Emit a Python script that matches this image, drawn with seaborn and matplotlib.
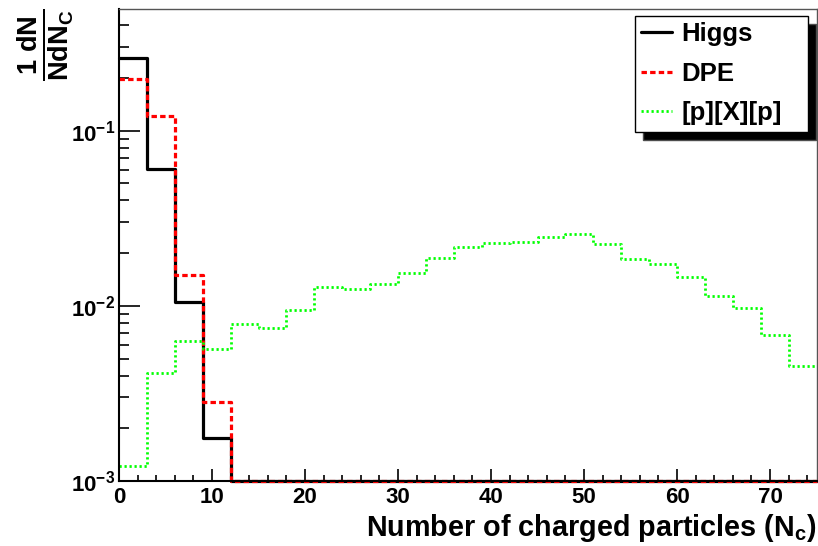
import numpy as np
import pandas as pd
import seaborn as sns
import matplotlib
matplotlib.use("Agg")
import matplotlib.pyplot as plt
from matplotlib.ticker import MultipleLocator, LogLocator, FuncFormatter, NullFormatter

# bin edges: width 3, from 0 to 75
edges = np.arange(0, 76, 3)

# normalised multiplicity per bin
higgs = [0.261, 0.0605, 0.0105, 0.00177] + [0.0] * 21
dpe = [0.197, 0.1217, 0.0150, 0.00284] + [0.0] * 21
pxp = [0.00122, 0.00411, 0.00628, 0.00568, 0.00791, 0.00747, 0.00942,
       0.01277, 0.0125, 0.0134, 0.01535, 0.0187, 0.0216, 0.0228, 0.0232,
       0.0246, 0.0256, 0.0226, 0.0185, 0.0174, 0.01456, 0.0114, 0.0097,
       0.00685, 0.00456]

labels = ["Higgs", "DPE", "[p][X][p]"]
ymin, ymax = 1e-3, 0.495

sns.set_theme(style="ticks")
plt.rcParams["font.family"] = ["Liberation Sans", "DejaVu Sans"]
plt.rcParams["font.weight"] = "bold"
plt.rcParams["text.color"] = "black"
plt.rcParams["axes.labelcolor"] = "black"
plt.rcParams["xtick.color"] = "black"
plt.rcParams["ytick.color"] = "black"
plt.rcParams["mathtext.fontset"] = "custom"
plt.rcParams["mathtext.rm"] = "Liberation Sans:bold"
plt.rcParams["mathtext.bf"] = "Liberation Sans:bold"
plt.rcParams["mathtext.it"] = "Liberation Sans:bold"
plt.rcParams["mathtext.default"] = "bf"

fig = plt.figure(figsize=(8.18, 5.46), dpi=100)
ax = fig.add_axes([119 / 818, 1 - 481 / 546, (816.5 - 119) / 818, (481 - 9) / 546])


def steps(vals):
    # ROOT draws empty bins on the frame bottom
    v = np.clip(np.array(vals, dtype=float), ymin, None)
    return pd.DataFrame({"x": edges, "y": np.append(v, v[-1])})


styles = [
    dict(color="black", lw=2.3, linestyle="-"),
    dict(color="#ff0000", lw=2.3, linestyle=(0, (1.7, 1.0))),
    dict(color="#00ff00", lw=2.0, linestyle=(0, (0.8, 1.0))),
]
for vals, lab, st in zip([higgs, dpe, pxp], labels, styles):
    sns.lineplot(data=steps(vals), x="x", y="y", drawstyle="steps-post",
                 label=lab, ax=ax, clip_on=False, **st)

ax.set_yscale("log")
ax.set_xlim(0, 75)
ax.set_ylim(ymin, ymax)

ax.xaxis.set_major_locator(MultipleLocator(10))
ax.xaxis.set_minor_locator(MultipleLocator(2))
ax.yaxis.set_major_locator(LogLocator(base=10))
ax.yaxis.set_minor_locator(LogLocator(base=10, subs=np.arange(2, 10)))
ax.yaxis.set_major_formatter(FuncFormatter(lambda v, p: r"$10^{%d}$" % round(np.log10(v))))
ax.yaxis.set_minor_formatter(NullFormatter())

ax.tick_params(axis="both", which="both", direction="in", top=False, right=False,
               labelsize=16, color="black", labelcolor="black", width=1.2)
ax.tick_params(axis="x", which="major", length=9, pad=4)
ax.tick_params(axis="x", which="minor", length=4.5)
ax.tick_params(axis="y", which="major", length=15, pad=3)
ax.tick_params(axis="y", which="minor", length=7.5)
for lab in ax.get_xticklabels() + ax.get_yticklabels():
    lab.set_fontweight("bold")

for s in ["left", "bottom"]:
    ax.spines[s].set_linewidth(1.5)
    ax.spines[s].set_color("black")
for s in ["top", "right"]:
    ax.spines[s].set_linewidth(1.0)
    ax.spines[s].set_color("#555555")

ax.set_xlabel(r"Number of charged particles (N$_{c}$)", fontsize=20.7,
              fontweight="bold", loc="right", labelpad=3, color="black")
ax.set_ylabel("")
fig.text(0.056, 0.985, r"$\frac{1\ dN}{NdN_{C}}$", rotation=90, fontsize=28,
         ha="center", va="top", color="black")

leg = ax.legend(loc="upper left",
                bbox_to_anchor=(635 / 818, 1 - 16 / 546, 173 / 818, 0.0),
                bbox_transform=fig.transFigure, borderaxespad=0, mode="expand",
                fontsize=18.5, frameon=True, fancybox=False, handlelength=1.2,
                handletextpad=0.35, labelspacing=0.6, borderpad=0.25,
                shadow={"ox": 6, "oy": -6, "facecolor": "black", "alpha": 1})
leg.get_frame().set_edgecolor("black")
leg.get_frame().set_linewidth(1.0)
for t in leg.get_texts():
    t.set_fontweight("bold")
    t.set_color("black")

fig.savefig("out.png", dpi=100)
